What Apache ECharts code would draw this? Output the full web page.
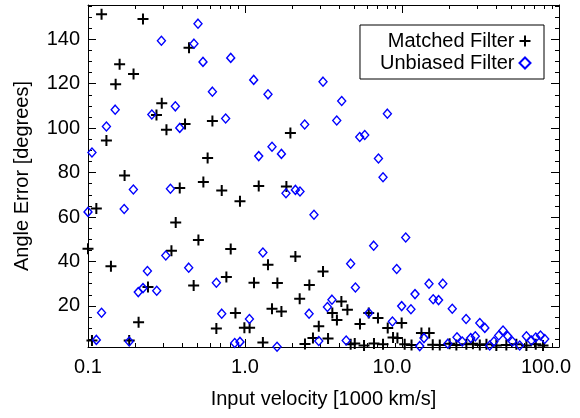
<!DOCTYPE html>
<html><head><meta charset="utf-8">
<script src="https://cdn.jsdelivr.net/npm/echarts@6/dist/echarts.min.js"></script>
<style>html,body{margin:0;padding:0;background:#fff}#c{width:580px;height:418px}</style>
</head><body><div id="c"></div>
<script>
// ---- data ----
const matchedX = [0.122,0.224,0.440,0.159,0.195,0.150,0.295,0.273,0.415,0.316,0.620,0.131,0.578,0.171,0.384,0.543,0.711,0.929,0.113,0.362,0.505,0.811,0.340,0.140,0.761,0.471,0.241,0.869,0.210,0.657,0.991,1.07,0.106,0.183,0.100,
  1.223,1.835,1.946,2.094,1.401,3.14,1.141,1.608,2.57,2.23,1.486,1.706,4.11,4.49,3.60,3.85,2.95,6.14,7.03,5.40,8.11,9.95,8.77,9.35,13.3,14.9,1.30,2.41,2.71,3.38,
  4.71,5.00,5.73,6.63,7.57,10.4,11.5,15.7,17.4,20.1,22.2,25.7,28.3,31.3,34.5,39.9,46.2,53.5,62.0,71.1,79.1];
const matchedY = [151.2,149.1,136.2,128.7,124.4,119.7,111.2,105.9,101.9,99.3,103.2,94.4,86.6,78.7,73.1,75.7,71.9,67.1,63.8,57.5,49.6,45.6,44.8,37.8,33.0,29.2,28.5,16.8,12.6,9.8,10.2,10.2,4.4,4.4,45.7,
  73.9,73.7,97.8,42.2,38.5,35.5,30.4,30.3,29.4,23.2,18.7,17.5,22.0,18.3,16.8,13.6,10.8,16.8,14.6,11.8,10.0,12.3,5.8,5.6,7.8,7.8,3.5,2.8,5.6,5.3,
  2.7,3.1,2.2,3.1,2.7,2.7,2.4,2.5,2.4,3.0,2.4,2.7,3.0,2.4,2.7,2.2,2.4,2.7,2.2,2.7,2.2];
const unbiasedX = [0.502,0.2935,0.473,0.540,0.811,0.620,0.149,0.360,0.255,0.384,0.131,0.753,0.106,0.1945,0.335,0.170,0.100,0.313,0.239,0.438,0.657,0.209,0.224,0.274,0.122,0.711,1.067,0.113,0.183,0.86,0.929,
  1.136,1.401,3.14,4.13,2.40,3.84,8.07,1.486,1.223,1.706,5.38,5.79,7.08,7.57,1.824,2.094,2.24,2.75,10.56,6.60,1.30,4.71,9.25,5.05,3.58,3.35,2.56,6.15,9.95,11.4,8.69,2.95,4.41,1.60,
  14.86,18.2,12.1,15.8,17.1,20.9,25.6,31.3,33.7,44.0,41.3,47.1,22.4,24.2,27.4,29.3,19.6,36.2,38.5,50.5,56.2,62.0,66.7,71.1,76.2,81.1,13.8,12.97];
const unbiasedY = [147.0,139.3,138.0,129.8,131.6,116.4,108.3,109.8,106.1,100.1,100.7,104.3,89.0,72.4,72.7,63.6,62.3,42.7,35.7,37.2,30.4,26.2,28.0,26.8,16.9,16.5,14.1,4.7,4.0,3.3,3.8,
  121.7,115.2,120.9,112.2,101.6,103.4,106.5,91.6,87.4,88.4,96.0,96.9,86.3,77.9,70.7,72.2,71.5,61.0,50.8,47.1,44.0,39.0,36.6,28.3,22.8,19.5,16.5,16.8,19.9,18.5,13.0,4.2,4.4,1.6,
  30.0,30.0,25.3,23.0,22.6,18.7,14.1,12.3,10.1,8.9,6.7,6.4,5.9,4.0,5.5,6.3,3.0,2.2,4.0,4.0,2.2,6.3,4.4,5.8,6.7,5.1,5.5,1.9];
const xTickLabels = ['0.1','1.0','10.0','100.0'];
const xMinorTicks = [0.2,0.3,0.4,0.5,0.6,0.7,0.8,0.9,2,3,4,5,6,7,8,9,20,30,40,50,60,70,80,90];
const yTickValues = [20,40,60,80,100,120,140];
const yMinorTicks = [5,10,15,25,30,35,45,50,55,65,70,75,85,90,95,105,110,115,125,130,135,145,150,155];
const seriesNames = ['Matched Filter','Unbiased Filter'];
const xTitle = 'Input velocity [1000 km/s]';
const yTitle = 'Angle Error [degrees]';

// ---- chart ----
const FONT = 'Liberation Sans';
const PLUS = 'path://M4.5,0H6.5V4.5H11V6.5H6.5V11H4.5V6.5H0V4.5H4.5Z';
const black = '#000';
const YMIN = 1.5, YMAX = 155.4;
const line = {show:true, onZero:false, lineStyle:{color:black, width:1}};
const noLine = {show:false, onZero:false};

function xMajor(pos, labels) {
  return {
    type:'log', logBase:10, min:0.1, max:100, position:pos,
    axisLine: line,
    axisTick: {show:true, inside:true, length:8, lineStyle:{color:black}},
    axisLabel: labels ? {
      show:true, color:black, fontFamily:FONT, fontSize:20, margin:10,
      formatter: v => { const i = Math.round(Math.log10(v)) + 1; return '{p' + i + '|' + xTickLabels[i] + '}'; },
      rich: {p0:{}, p1:{}, p2:{padding:[0,20,0,0]}, p3:{padding:[0,26,0,0]}}
    } : {show:false},
    splitLine: {show:false},
    name: labels ? xTitle : '', nameLocation:'middle', nameGap:42,
    nameTextStyle: {color:black, fontFamily:FONT, fontSize:20}
  };
}
function xMinor(pos) {
  return {
    type:'value', min:-1, max:2, position:pos,
    axisLine: noLine, axisLabel:{show:false}, splitLine:{show:false},
    axisTick: {show:true, inside:true, length:4, lineStyle:{color:black},
      customValues: xMinorTicks.map(v => Math.log10(v))}
  };
}
function yMajor(pos, labels) {
  return {
    type:'value', min:YMIN, max:YMAX, position:pos,
    axisLine: line,
    axisTick: {show:true, inside:true, length:8, lineStyle:{color:black}, customValues: yTickValues},
    axisLabel: labels ? {show:true, color:black, fontFamily:FONT, fontSize:20, margin:8, customValues: yTickValues} : {show:false},
    splitLine: {show:false},
    name: labels ? yTitle : '', nameLocation:'middle', nameGap:56,
    nameTextStyle: {color:black, fontFamily:FONT, fontSize:20}
  };
}
function yMinor(pos) {
  return {
    type:'value', min:YMIN, max:YMAX, position:pos,
    axisLine: noLine, axisLabel:{show:false}, splitLine:{show:false},
    axisTick: {show:true, inside:true, length:4, lineStyle:{color:black}, customValues: yMinorTicks}
  };
}

const chart = echarts.init(document.getElementById('c'), null, {renderer:'canvas'});
chart.setOption({
  animation:false,
  backgroundColor:'#fff',
  grid: {left:88, right:21, top:5, bottom:71},
  xAxis: [xMajor('bottom', true), xMinor('bottom'), xMajor('top', false), xMinor('top')],
  yAxis: [yMajor('left', true), yMinor('left'), yMajor('right', false), yMinor('right')],
  legend: {
    orient:'vertical', right:36, top:25, align:'right',
    itemWidth:11, itemHeight:11, itemGap:0,
    padding:[5,11,5,20],
    borderColor:black, borderWidth:1, backgroundColor:'#fff',
    textStyle:{color:black, fontFamily:FONT, fontSize:20, lineHeight:22},
    data: [{name:seriesNames[0], icon:PLUS}, {name:seriesNames[1], icon:'diamond'}]
  },
  series: [
    {
      name:seriesNames[0], type:'scatter', xAxisIndex:0, yAxisIndex:0,
      symbol:PLUS, symbolSize:11,
      itemStyle:{color:black, opacity:1},
      data: matchedX.map((x,i) => [x, matchedY[i]])
    },
    {
      name:seriesNames[1], type:'scatter', xAxisIndex:0, yAxisIndex:0,
      symbol:'diamond', symbolSize:[8,9],
      itemStyle:{color:'none', borderColor:'#0000ff', borderWidth:1.4, opacity:1},
      data: unbiasedX.map((x,i) => [x, unbiasedY[i]])
    }
  ]
});
</script>
</body></html>
